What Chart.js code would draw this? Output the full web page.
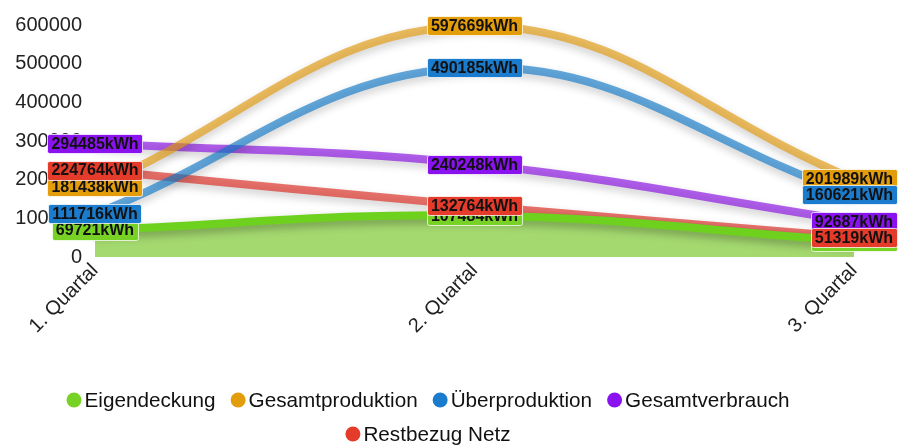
<!DOCTYPE html>
<html><head><meta charset="utf-8">
<script src="https://cdn.jsdelivr.net/npm/chart.js@4/dist/chart.umd.min.js"></script>
<style>html,body{margin:0;padding:0;background:#fff}#wrap{width:900px;height:445px;position:relative}</style>
</head><body><div id="wrap"><canvas id="c" width="900" height="445"></canvas></div>
<script>
const categories = ['1. Quartal', '2. Quartal', '3. Quartal'];
const eigendeckung = [69721, 107484, 41368];
const gesamtproduktion = [181438, 597669, 201989];
const ueberproduktion = [111716, 490185, 160621];
const gesamtverbrauch = [294485, 240248, 92687];
const restbezugNetz = [224764, 132764, 51319];
const seriesNames = ['Eigendeckung', 'Gesamtproduktion', 'Überproduktion', 'Gesamtverbrauch', 'Restbezug Netz'];
const yTickValues = [0, 100000, 200000, 300000, 400000, 500000, 600000];
const unit = 'kWh';

const FONT = '"Liberation Sans", Arial, sans-serif';
const baseColors = ['#78d226', '#e39c0a', '#1b7bcc', '#8a12ee', '#e53b2b'];
const lineColors = ['#6dd11e', 'rgba(224,152,10,0.65)', 'rgba(16,120,200,0.65)', 'rgba(135,10,225,0.65)', 'rgba(220,40,30,0.65)'];
const seriesData = [eigendeckung, gesamtproduktion, ueberproduktion, gesamtverbrauch, restbezugNetz];

const datasets = seriesNames.map((name, i) => ({
  label: name,
  data: seriesData[i],
  borderColor: lineColors[i],
  backgroundColor: i === 0 ? '#a4d96f' : lineColors[i],
  borderWidth: 8,
  tension: 0.4,
  pointRadius: 0,
  pointHoverRadius: 0,
  fill: i === 0 ? 'origin' : false
}));

const shadowPlugin = {
  id: 'shadowPlugin',
  beforeDatasetsDraw(chart) {
    const ctx = chart.ctx;
    ctx.save();
    ctx.shadowColor = 'rgba(0,0,0,0.3)';
    ctx.shadowBlur = 8;
    ctx.shadowOffsetX = 0;
    ctx.shadowOffsetY = 4;
  },
  afterDatasetsDraw(chart) {
    const ctx = chart.ctx;
    ctx.restore();
    ctx.save();
    ctx.font = 'bold 16px ' + FONT;
    ctx.textAlign = 'center';
    ctx.textBaseline = 'middle';
    chart.data.datasets.forEach((ds, i) => {
      const meta = chart.getDatasetMeta(i);
      meta.data.forEach((pt, j) => {
        const txt = ds.data[j] + unit;
        const w = ctx.measureText(txt).width + 8;
        const h = 19;
        const cx = Math.min(Math.max(pt.x, w / 2 + 2), chart.width - w / 2 - 3);
        const cy = pt.y;
        ctx.fillStyle = baseColors[i];
        ctx.strokeStyle = 'rgba(255,255,255,0.75)';
        ctx.lineWidth = 1;
        ctx.beginPath();
        ctx.roundRect(Math.round(cx - w / 2) + 0.5, Math.round(cy - h / 2) + 0.5, Math.round(w), h, 2);
        ctx.fill();
        ctx.stroke();
        ctx.fillStyle = '#111';
        ctx.fillText(txt, cx, cy + 1);
      });
    });
    ctx.restore();
  },
  afterDraw(chart) {
    const ctx = chart.ctx;
    ctx.save();
    ctx.font = '20.7px ' + FONT;
    ctx.textBaseline = 'middle';
    ctx.textAlign = 'left';
    const dot = 15, gap = 3, spacing = 15, maxW = 780;
    const items = seriesNames.map((n, i) => ({n, i, w: dot + gap + ctx.measureText(n).width}));
    const rows = [];
    let cur = [], curW = 0;
    items.forEach(it => {
      const add = cur.length ? spacing + it.w : it.w;
      if (cur.length && curW + add > maxW) { rows.push({items: cur, w: curW}); cur = [it]; curW = it.w; }
      else { cur.push(it); curW += add; }
    });
    if (cur.length) rows.push({items: cur, w: curW});
    const centerX = 428, rowY = [400, 434];
    rows.forEach((row, r) => {
      let x = centerX - row.w / 2;
      const y = rowY[r];
      row.items.forEach(it => {
        ctx.fillStyle = baseColors[it.i];
        ctx.beginPath();
        ctx.arc(x + dot / 2, y, dot / 2, 0, Math.PI * 2);
        ctx.fill();
        ctx.fillStyle = '#111';
        ctx.fillText(it.n, x + dot + gap, y + 1);
        x += it.w + spacing;
      });
    });
    ctx.restore();
  }
};

new Chart(document.getElementById('c'), {
  type: 'line',
  data: {labels: categories, datasets},
  plugins: [shadowPlugin],
  options: {
    responsive: false,
    animation: false,
    devicePixelRatio: 1,
    layout: {padding: {top: 25, right: 46, left: 0, bottom: 0}},
    plugins: {legend: {display: false}, tooltip: {enabled: false}},
    scales: {
      x: {
        offset: false,
        grid: {display: false, drawTicks: false},
        border: {display: false},
        ticks: {font: {size: 20, family: FONT}, color: '#222', maxRotation: 45, minRotation: 45, padding: 2},
        afterFit(scale) { scale.height = 188; }
      },
      y: {
        min: 0, max: 600000,
        afterBuildTicks(scale) { scale.ticks = yTickValues.map(v => ({value: v})); },
        grid: {display: false, drawTicks: false},
        border: {display: false},
        ticks: {font: {size: 20, family: FONT}, color: '#222', padding: 13, callback: v => String(v)},
        afterFit(scale) { scale.width = 95; }
      }
    }
  }
});
</script>
</body></html>
